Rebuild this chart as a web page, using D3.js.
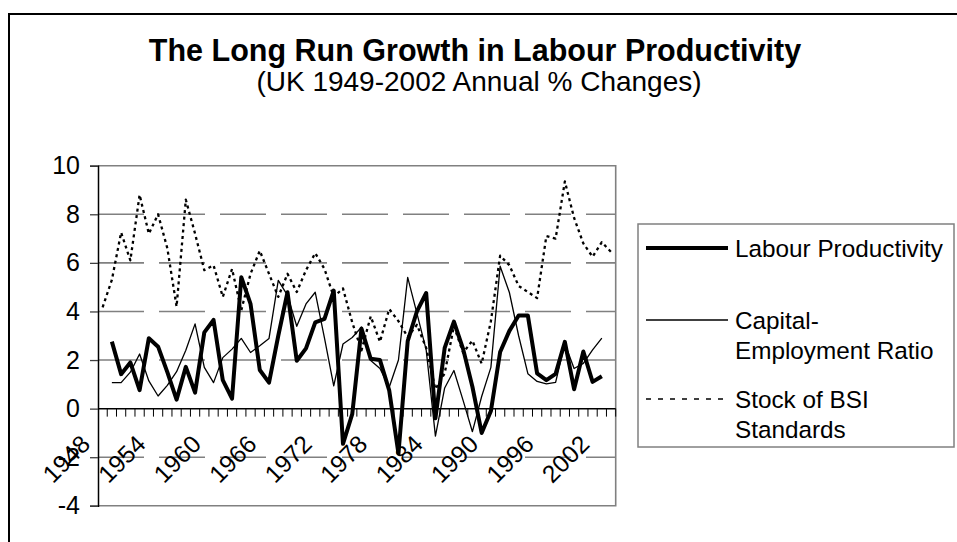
<!DOCTYPE html>
<html>
<head>
<meta charset="utf-8">
<script src="https://cdn.jsdelivr.net/npm/d3@7"></script>
<style>
  body { margin: 0; background: #fff; }
  svg { display: block; font-family: "Liberation Sans", Arial, sans-serif; }
</style>
</head>
<body>
<div id="chart"></div>
<script>
// Category axis: one slot per year, labels every 6 years
const years = d3.range(1948, 2004);
const tickLabels = ['1948', '1954', '1960', '1966', '1972', '1978', '1984', '1990', '1996', '2002'];
const yTicks = [-4, -2, 0, 2, 4, 6, 8, 10];

// Labour Productivity, 1949-2002
const labourStart = 1949;
const labourProductivity = [
    2.76, 1.42, 1.9, 0.76, 2.9, 2.55, 1.5, 0.37, 1.72, 0.66,
    3.14, 3.65, 1.17, 0.41, 5.41, 4.31, 1.59, 1.07, 3.0, 4.79,
    1.97, 2.48, 3.55, 3.69, 4.86, -1.45, -0.23, 3.3, 2.05, 2.0,
    0.75, -1.85, 2.78, 4.0, 4.76, -0.4, 2.5, 3.58, 2.45, 0.9,
    -1.0, -0.1, 2.33, 3.2, 3.83, 3.83, 1.45, 1.17, 1.43, 2.75,
    0.8, 2.35, 1.1, 1.33
];

// Capital-Employment Ratio, 1949-2002
const capitalStart = 1949;
const capitalEmployment = [
    1.07, 1.07, 1.5, 2.25, 1.14, 0.52, 0.96, 1.52, 2.4, 3.49,
    1.7, 1.07, 2.1, 2.45, 2.89, 2.31, 2.59, 2.89, 5.28, 4.66,
    3.39, 4.31, 4.79, 2.9, 0.94, 2.66, 2.93, 3.35, 1.98, 1.65,
    0.88, 2.0, 5.4, 3.92, 2.42, -1.13, 0.85, 1.57, 0.33, -0.95,
    0.5, 1.7, 5.86, 4.78, 3.0, 1.44, 1.12, 1.02, 1.08, 2.68,
    1.65, 1.86, 2.42, 2.9
];

// Stock of BSI Standards, 1948-2003
const bsiStart = 1948;
const bsiStandards = [
    4.17, 5.3, 7.25, 6.1, 8.8, 7.2, 8.0, 6.6, 4.2, 8.6,
    7.2, 5.7, 5.9, 4.6, 5.75, 4.05, 5.55, 6.5, 5.55, 4.6,
    5.55, 4.8, 5.7, 6.4, 5.75, 4.6, 4.95, 3.55, 2.4, 3.8,
    2.75, 4.1, 3.6, 2.95, 3.45, 2.5, 0.8, 1.45, 3.4, 2.3,
    2.8, 1.85, 3.6, 6.3, 5.9, 5.05, 4.8, 4.55, 7.1, 7.0,
    9.35, 7.85, 6.8, 6.25, 6.85, 6.45
];

const series = [
    { name: 'Labour Productivity', start: labourStart, values: labourProductivity, width: 4, dash: null },
    { name: 'Capital-Employment Ratio', start: capitalStart, values: capitalEmployment, width: 1.3, dash: null },
    { name: 'Stock of BSI Standards', start: bsiStart, values: bsiStandards, width: 2.3, dash: '3,3.5' }
];

const W = 957, H = 542;
const plot = { left: 98, right: 615.7, top: 165.7, bottom: 505.8 };
const GRID = '#808080';

const svg = d3.select('#chart').append('svg')
    .attr('width', W)
    .attr('height', H);

svg.append('rect').attr('width', W).attr('height', H).attr('fill', '#fff');

// Outer chart frame (runs off the right and bottom of the picture)
svg.append('rect')
    .attr('x', 9).attr('y', 14)
    .attr('width', 1000).attr('height', 600)
    .attr('fill', 'none')
    .attr('stroke', '#000')
    .attr('stroke-width', 2);

const x = d3.scaleBand()
    .domain(years)
    .range([plot.left, plot.right])
    .padding(0);

const y = d3.scaleLinear()
    .domain([-4, 10])
    .range([plot.bottom, plot.top]);

const cx = yr => x(yr) + x.bandwidth() / 2;

// Title
svg.append('text')
    .attr('x', 475).attr('y', 61)
    .attr('text-anchor', 'middle')
    .style('font-size', '30.5px')
    .style('font-weight', 'bold')
    .text('The Long Run Growth in Labour Productivity');

svg.append('text')
    .attr('x', 479).attr('y', 91)
    .attr('text-anchor', 'middle')
    .style('font-size', '28px')
    .text('(UK 1949-2002 Annual % Changes)');

// Gridlines: dashed, top one is the plot border
const gridG = svg.append('g').attr('class', 'grid');
gridG.selectAll('line')
    .data(yTicks.filter(v => v !== 0 && v !== 10 && v !== -4))
    .enter().append('line')
    .attr('x1', plot.left).attr('x2', plot.right)
    .attr('y1', d => y(d)).attr('y2', d => y(d))
    .attr('stroke', GRID)
    .attr('stroke-width', 1.6)
    .attr('stroke-dasharray', '46,15');

// Plot border (top, right, bottom)
svg.append('path')
    .attr('d', `M${plot.left},${y(10)}H${plot.right}V${y(-4)}H${plot.left}`)
    .attr('fill', 'none')
    .attr('stroke', GRID)
    .attr('stroke-width', 1.6);

// Series lines
const lineGen = d3.line()
    .x(d => cx(d.year))
    .y(d => y(d.value));

series.forEach(s => {
    const pts = s.values.map((v, i) => ({ year: s.start + i, value: v }));
    svg.append('path')
        .datum(pts)
        .attr('fill', 'none')
        .attr('stroke', '#000')
        .attr('stroke-width', s.width)
        .attr('stroke-linejoin', 'round')
        .attr('stroke-dasharray', s.dash)
        .attr('d', lineGen);
});

// Y axis (plain hyphen for negatives, as in the original)
const yAxis = svg.append('g')
    .attr('transform', `translate(${plot.left},0)`)
    .call(d3.axisLeft(y).tickValues(yTicks).tickSize(8).tickPadding(10).tickFormat(d => String(d)));
yAxis.select('.domain').attr('stroke', '#000').attr('stroke-width', 1.5);
yAxis.selectAll('.tick line').attr('stroke', '#404040').attr('stroke-width', 1.3);
yAxis.selectAll('.tick text')
    .style('font-size', '25px')
    .style('font-family', '"Liberation Sans", Arial, sans-serif')
    .attr('fill', '#000');

// X axis at zero with ticks on category boundaries
const xAxisG = svg.append('g').attr('class', 'x-axis');
xAxisG.append('line')
    .attr('x1', plot.left).attr('x2', plot.right)
    .attr('y1', y(0)).attr('y2', y(0))
    .attr('stroke', '#000')
    .attr('stroke-width', 1.5);
xAxisG.selectAll('.xtick')
    .data(years.slice(1).concat([null]))
    .enter().append('line')
    .attr('class', 'xtick')
    .attr('x1', d => d === null ? plot.right : x(d))
    .attr('x2', d => d === null ? plot.right : x(d))
    .attr('y1', y(0)).attr('y2', y(0) + 8)
    .attr('stroke', '#000')
    .attr('stroke-width', 1);

xAxisG.selectAll('.xlabel')
    .data(tickLabels)
    .enter().append('text')
    .attr('class', 'xlabel')
    .attr('text-anchor', 'end')
    .attr('transform', d => `translate(${cx(+d) - 11},${y(0) + 37}) rotate(-45)`)
    .style('font-size', '24.5px')
    .text(d => d);

// Legend
const legend = svg.append('g').attr('class', 'legend');
legend.append('rect')
    .attr('x', 638).attr('y', 224)
    .attr('width', 316).attr('height', 223)
    .attr('fill', '#fff')
    .attr('stroke', GRID)
    .attr('stroke-width', 1.5);

const legendItems = [
    { s: series[0], y: 248, lines: ['Labour Productivity'] },
    { s: series[1], y: 320, lines: ['Capital-', 'Employment Ratio'] },
    { s: series[2], y: 399, lines: ['Stock of BSI', 'Standards'] }
];

legendItems.forEach(item => {
    legend.append('line')
        .attr('x1', 646).attr('x2', 728)
        .attr('y1', item.y).attr('y2', item.y)
        .attr('stroke', '#000')
        .attr('stroke-width', item.s.dash ? 1.5 : item.s.width)
        .attr('stroke-dasharray', item.s.dash ? '5,7' : null);
    item.lines.forEach((t, i) => {
        legend.append('text')
            .attr('x', 735)
            .attr('y', item.y + i * 30)
            .attr('dy', '0.35em')
            .style('font-size', '24.3px')
            .text(t);
    });
});
</script>
</body>
</html>
